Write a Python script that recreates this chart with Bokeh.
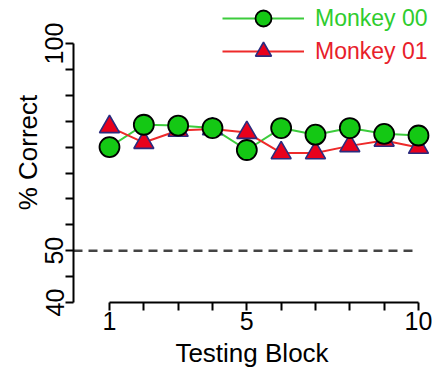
from bokeh.plotting import figure
from bokeh.models import Range1d, FixedTicker, Legend, LegendItem
from bokeh.embed import file_html
from bokeh.resources import INLINE

# ---- data ----
blocks = [1, 2, 3, 4, 5, 6, 7, 8, 9, 10]
monkey00 = [75.0, 80.4, 80.2, 79.6, 74.3, 79.6, 78.0, 79.6, 78.2, 77.8]
monkey01 = [79.9, 76.1, 79.0, 79.4, 78.5, 73.6, 73.6, 75.3, 76.6, 74.9]
chance = 50
series_names = ["Monkey 00", "Monkey 01"]
x_tick_labels = {1: "1", 5: "5", 10: "10"}
y_tick_labels = {37.5: "40", 50: "50", 100: "100"}
y_ticks = [37.5 + 6.25 * k for k in range(11)]

X_START, X_END = -0.0486, 10.35
Y_START, Y_END = 37.5, 109.9

FONT = "Liberation Sans"
GREEN_LINE = "#3ccc3c"
GREEN_FILL = "#14c814"
RED_LINE = "#ee2a2a"
RED_FILL = "#e8001c"
NAVY = "#2b2b7e"

p = figure(width=432, height=374, output_backend="svg", toolbar_location=None,
           x_range=Range1d(X_START, X_END), y_range=Range1d(Y_START, Y_END),
           min_border_left=73, min_border_bottom=72, min_border_top=2, min_border_right=2)
p.outline_line_color = None
p.grid.visible = False
p.background_fill_color = "white"
p.border_fill_color = "white"

# chance line
p.line([X_START, blocks[-1]], [chance, chance], line_color="#444444", line_width=2.5,
       line_dash="9 6")

# series
l0 = p.line(blocks, monkey00, line_color=GREEN_LINE, line_width=2)
l1 = p.line(blocks, monkey01, line_color=RED_LINE, line_width=2)
s1 = p.scatter(blocks, monkey01, marker="triangle", size=20, fill_color=RED_FILL,
               line_color=NAVY, line_width=1.6)
s0 = p.scatter(blocks, monkey00, marker="circle", size=20, fill_color=GREEN_FILL,
               line_color="black", line_width=1.8)

# axes
for ax in (p.xaxis[0], p.yaxis[0]):
    ax.axis_line_width = 2
    ax.axis_line_color = "black"
    ax.major_tick_line_width = 2
    ax.major_tick_line_color = "black"
    ax.major_tick_out = 8
    ax.major_tick_in = 0
    ax.minor_tick_line_color = None
    ax.major_label_text_font = FONT
    ax.major_label_text_font_size = "25px"
    ax.major_label_text_color = "black"
    ax.axis_label_text_font = FONT
    ax.axis_label_text_font_size = "26px"
    ax.axis_label_text_font_style = "normal"
    ax.axis_label_text_color = "black"

p.xaxis.ticker = FixedTicker(ticks=blocks)
p.xaxis.major_label_overrides = {b: x_tick_labels.get(b, "") for b in blocks}
p.xaxis.bounds = (blocks[0], blocks[-1])
p.xaxis.axis_label = "Testing Block"
p.xaxis.major_label_standoff = 1
p.xaxis.axis_label_standoff = 5

p.yaxis.ticker = FixedTicker(ticks=y_ticks)
p.yaxis.major_label_overrides = {t: y_tick_labels.get(t, "") for t in y_ticks}
p.yaxis.bounds = (y_ticks[0], y_ticks[-1])
p.yaxis.axis_label = "% Correct"
p.yaxis.major_label_orientation = "vertical"
p.yaxis.major_label_standoff = 2
p.yaxis.axis_label_standoff = 0

# legends (one per series so each label gets its own colour)
def make_legend(renderers, label, color, loc):
    lg = Legend(items=[LegendItem(label=label, renderers=renderers)], location=loc,
                glyph_width=82, glyph_height=40, label_height=40, label_standoff=11,
                padding=0, margin=0, spacing=0, border_line_color=None,
                background_fill_alpha=0, label_text_font=FONT,
                label_text_font_size="23px", label_text_color=color)
    return lg

p.add_layout(make_legend([l0, s0], series_names[0], "#2ecc2e", (149, 264)))
p.add_layout(make_legend([l1, s1], series_names[1], "#e8202a", (149, 231)))

open("out.html", "w").write(file_html(p, INLINE))
